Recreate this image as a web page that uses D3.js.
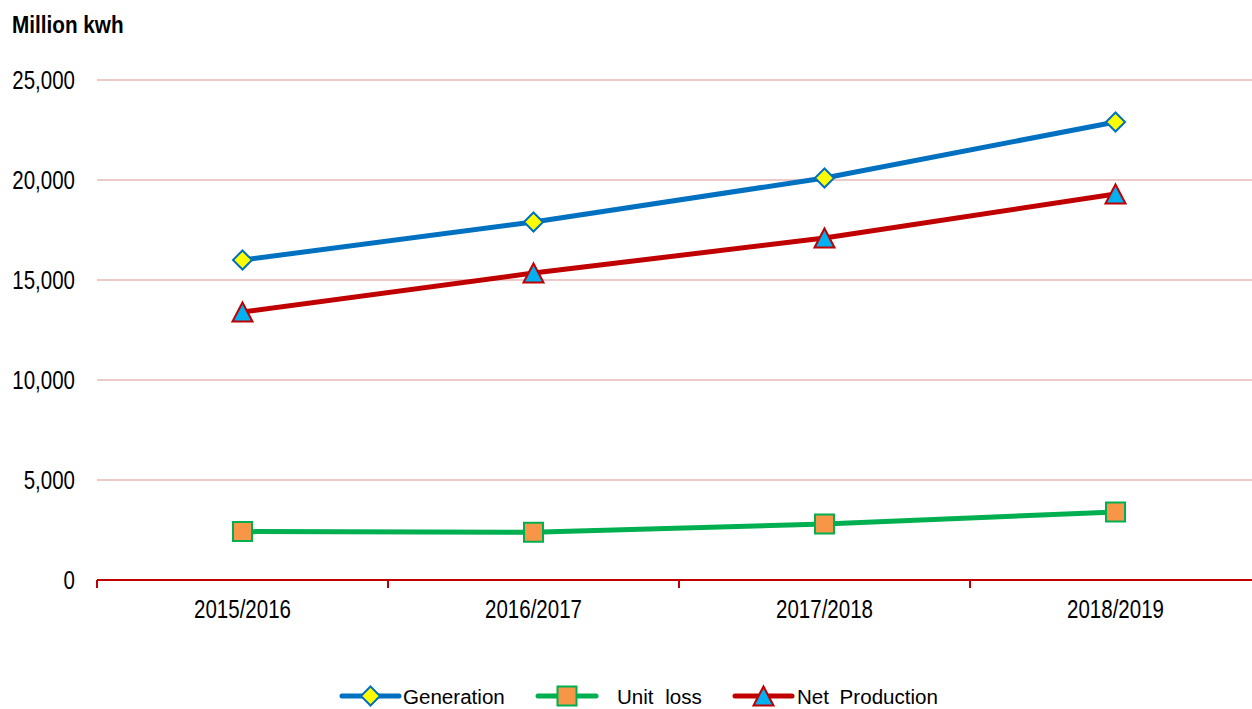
<!DOCTYPE html>
<html>
<head>
<meta charset="utf-8">
<script src="https://cdn.jsdelivr.net/npm/d3@7/dist/d3.min.js"></script>
<style>
  html, body { margin: 0; padding: 0; background: #fff; }
  svg { display: block; }
</style>
</head>
<body>
<script>
const categories = ["2015/2016", "2016/2017", "2017/2018", "2018/2019"];
const generation = [16000, 17900, 20100, 22900];
const unitLoss = [2420, 2390, 2800, 3400];
const netProduction = [13400, 15350, 17100, 19300];
const yTicks = [0, 5000, 10000, 15000, 20000, 25000];
const seriesNames = ["Generation", "Unit loss", "Net Production"];

const W = 1252, H = 709;
const svg = d3.select("body").append("svg").attr("width", W).attr("height", H);

const x = d3.scaleBand().domain(categories).range([97, 1261]);
const y = d3.scaleLinear().domain([0, 25000]).range([580, 80]);

const font = "'Liberation Sans', Arial, sans-serif";
const narrow = 0.82;

// gridlines
svg.append("g").selectAll("line")
  .data(yTicks.filter(d => d > 0))
  .join("line")
  .attr("x1", 97).attr("x2", W)
  .attr("y1", d => y(d)).attr("y2", d => y(d))
  .attr("stroke", "#E6B9B8").attr("stroke-width", 1.5);

// y labels
svg.append("g").selectAll("text")
  .data(yTicks)
  .join("text")
  .attr("transform", d => `translate(75,${y(d) + 9}) scale(${narrow},1)`)
  .attr("text-anchor", "end")
  .attr("font-family", font).attr("font-size", 25)
  .attr("fill", "#000")
  .text(d => d3.format(",")(d));

// x axis
const xAxis = d3.axisBottom(x).tickSize(0).tickFormat("");
const gx = svg.append("g").attr("transform", `translate(0,${y(0)})`).call(xAxis);
gx.select(".domain").attr("stroke", "#C00000").attr("stroke-width", 2).attr("d", `M97,0H1261`);
const bounds = categories.map(c => x(c)).concat([x(categories[3]) + x.bandwidth()]);
svg.append("g").selectAll("line")
  .data(bounds)
  .join("line")
  .attr("x1", d => d).attr("x2", d => d)
  .attr("y1", y(0)).attr("y2", y(0) + 8)
  .attr("stroke", "#C00000").attr("stroke-width", 2);
svg.append("g").selectAll("text")
  .data(categories)
  .join("text")
  .attr("transform", d => `translate(${x(d) + x.bandwidth() / 2},618) scale(${narrow},1)`)
  .attr("text-anchor", "middle")
  .attr("font-family", font).attr("font-size", 25)
  .attr("fill", "#000")
  .text(d => d);

// title
svg.append("text").attr("transform", "translate(12,33) scale(0.9,1)")
  .attr("font-family", font).attr("font-size", 23).attr("font-weight", "bold")
  .text("Million kwh");

const cx = d => x(d) + x.bandwidth() / 2;
const line = d3.line().x(d => cx(d.c)).y(d => y(d.v));

const series = [
  { name: seriesNames[0], values: generation, color: "#0070C0", fill: "#FFFF00", shape: "diamond" },
  { name: seriesNames[1], values: unitLoss, color: "#00B050", fill: "#F79646", shape: "square" },
  { name: seriesNames[2], values: netProduction, color: "#C00000", fill: "#00B0F0", shape: "triangle" }
];

function markerPath(shape) {
  if (shape === "diamond") return "M0,-9.5L9.5,0L0,9.5L-9.5,0Z";
  if (shape === "square") return "M-9.5,-9.5H9.5V9.5H-9.5Z";
  return "M0,-9.5L10,9.5L-10,9.5Z";
}

series.forEach(s => {
  const pts = categories.map((c, i) => ({ c, v: s.values[i] }));
  svg.append("path").datum(pts)
    .attr("d", line).attr("fill", "none")
    .attr("stroke", s.color).attr("stroke-width", 5)
    .attr("stroke-linejoin", "round");
  svg.append("g").selectAll("path")
    .data(pts).join("path")
    .attr("transform", d => `translate(${cx(d.c)},${y(d.v)})`)
    .attr("d", markerPath(s.shape))
    .attr("fill", s.fill).attr("stroke", s.color).attr("stroke-width", 2);
});

// legend
const legendItems = [
  { s: series[0], x0: 342, x1: 399, tx: 403, ws: 0 },
  { s: series[1], x0: 538, x1: 596, tx: 617, ws: 6 },
  { s: series[2], x0: 735, x1: 792, tx: 797, ws: 5 }
];
const lg = svg.append("g");
legendItems.forEach(it => {
  const ly = 696;
  lg.append("line").attr("x1", it.x0).attr("x2", it.x1).attr("y1", ly).attr("y2", ly)
    .attr("stroke", it.s.color).attr("stroke-width", 5).attr("stroke-linecap", "round");
  lg.append("path").attr("transform", `translate(${(it.x0 + it.x1) / 2},${ly})`)
    .attr("d", markerPath(it.s.shape))
    .attr("fill", it.s.fill).attr("stroke", it.s.color).attr("stroke-width", 2);
  lg.append("text").attr("x", it.tx).attr("y", ly + 8)
    .attr("font-family", font).attr("font-size", 21)
    .attr("word-spacing", it.ws)
    .attr("transform", `translate(${it.tx},0) scale(0.98,1) translate(${-it.tx},0)`)
    .text(it.s.name);
});
</script>
</body>
</html>
